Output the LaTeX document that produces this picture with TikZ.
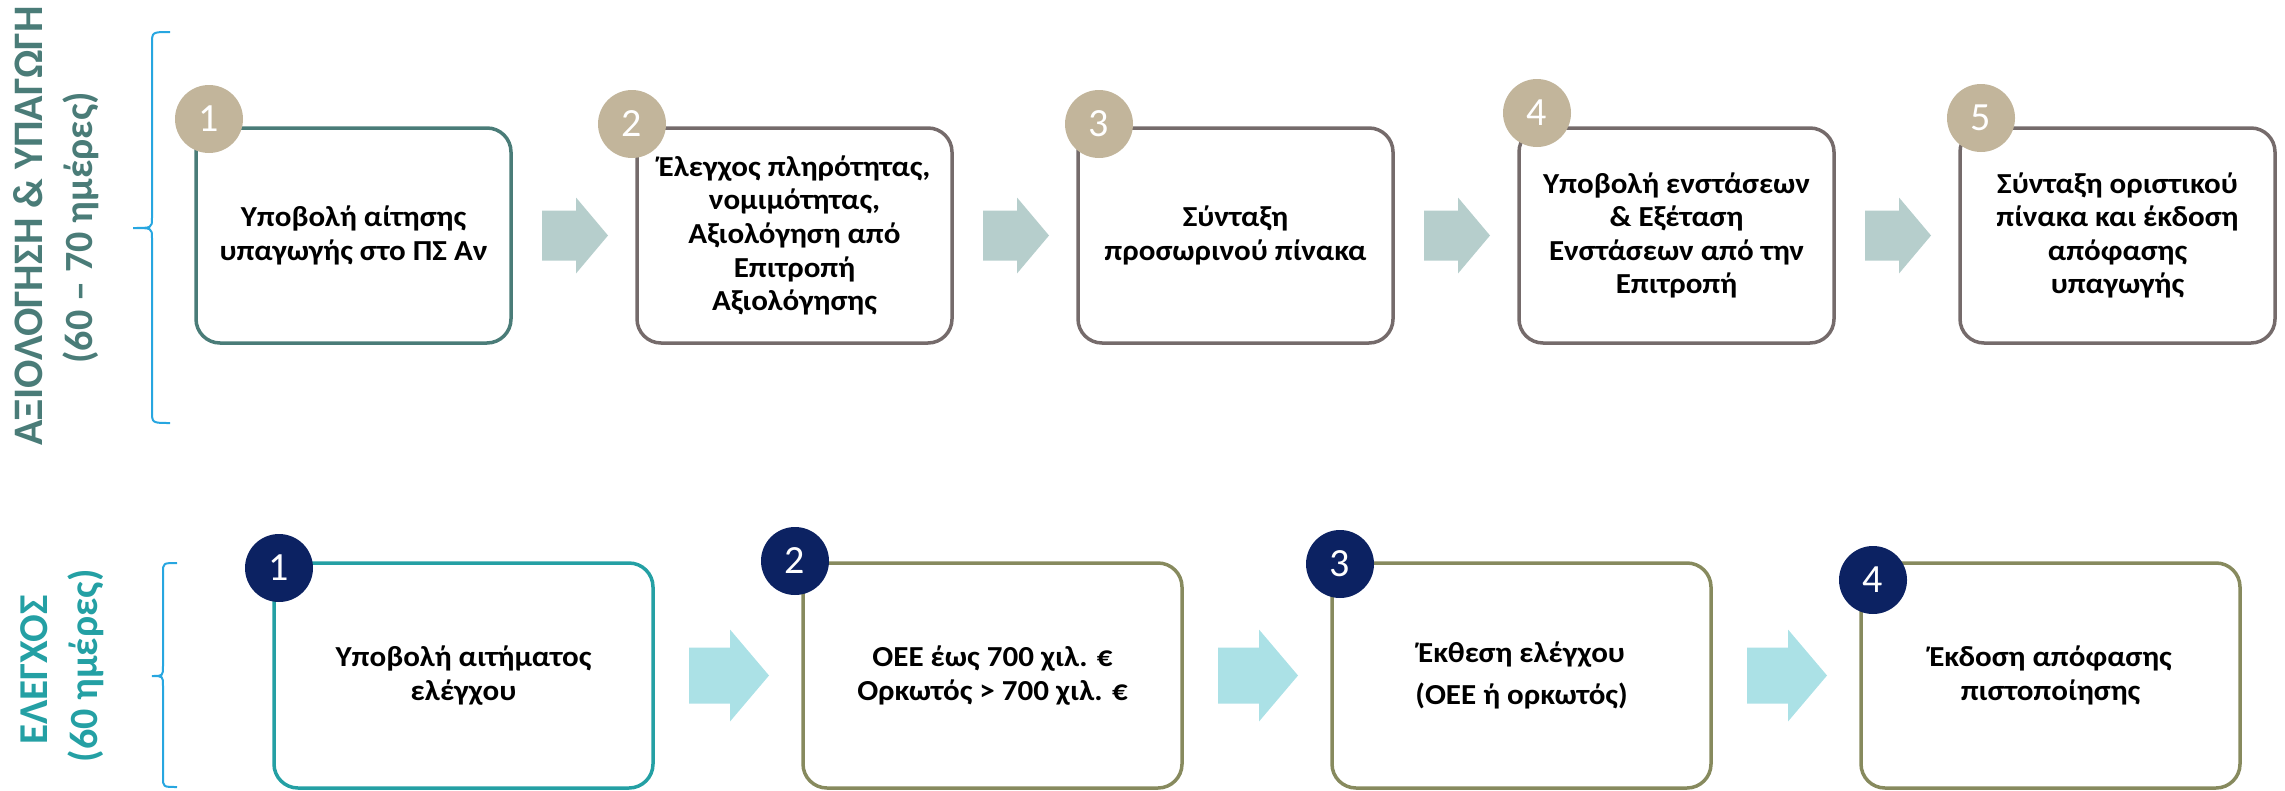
\documentclass[tikz,border=0pt]{standalone}
\usepackage{fontspec}
\setmainfont{Carlito}[FakeStretch=1.07]
\newfontfamily\titlefont{Carlito}
\usepackage{tikz}
\usetikzlibrary{calc}
\definecolor{TopTeal}{HTML}{4A7C78}
\definecolor{TopGray}{HTML}{756B6B}
\definecolor{TopTan}{HTML}{C2B59B}
\definecolor{TopArrow}{HTML}{B6CECC}
\definecolor{BotTeal}{HTML}{24A0A4}
\definecolor{BotOlive}{HTML}{878A5E}
\definecolor{BotNavy}{HTML}{0C2262}
\definecolor{BotArrow}{HTML}{ABE1E6}
\definecolor{BraceBlue}{HTML}{27A6E0}
\tikzset{
  topbox/.style={draw=TopGray, line width=3.5pt, rounded corners=24pt, minimum width=315pt, minimum height=215pt, inner sep=0pt, outer sep=0pt, align=center, font=\bfseries\fontsize{29}{33.6}\selectfont},
  topfirst/.style={topbox, draw=TopTeal},
  botbox/.style={topbox, draw=BotOlive, minimum width=379pt, minimum height=225pt},
  botfirst/.style={botbox, draw=BotTeal},
  topbadge/.style={circle, fill=TopTan, text=white, minimum size=68pt, inner sep=0pt, font=\titlefont\fontsize{40}{40}\selectfont},
  botbadge/.style={topbadge, fill=BotNavy},
  toparrow/.style={fill=TopArrow},
  botarrow/.style={fill=BotArrow},
  toptitle/.style={rotate=90, anchor=base, text=TopTeal, font=\titlefont\bfseries\fontsize{42}{50}\selectfont},
  bottitle/.style={toptitle, text=BotTeal},
  days/.style={font=\titlefont\bfseries\fontsize{40}{48}\selectfont},
  curly/.style={draw=BraceBlue, line width=2pt}
}
\begin{document}
\begin{tikzpicture}[x=1pt,y=-1pt]
  \useasboundingbox (0,0) rectangle (2285,790);
  \node[toptitle] (t1) at (42,226) {ΑΞΙΟΛΟΓΗΣΗ \& ΥΠΑΓΩΓΗ};
  \node[toptitle, days] (t2) at (92,228) {(60 – 70 ημέρες)};
  \node[bottitle, font=\titlefont\bfseries\fontsize{41}{48}\selectfont] (t3) at (47,670) {ΕΛΕΓΧΟΣ};
  \node[bottitle, days] (t4) at (97,666) {(60 ημέρες)};
  \draw[curly] (170,32) .. controls (152,32) .. (152,44) -- (152,218) .. controls (152,228) .. (133,228) .. controls (152,228) .. (152,238) -- (152,411) .. controls (152,423) .. (170,423);
  \draw[curly] (177,563) .. controls (163,563) .. (163,573) -- (163,666) .. controls (163,676) .. (152,676) .. controls (163,676) .. (163,686) -- (163,777) .. controls (163,787) .. (177,787);

  \node[topfirst] (b1) at (353.5,235.5) {Υποβολή αίτησης\\υπαγωγής στο ΠΣ Αν};
  \node[topbox] (b2) at (794.5,235.5) {Έλεγχος πληρότητας,\\νομιμότητας,\\Αξιολόγηση από\\Επιτροπή\\Αξιολόγησης};
  \node[topbox] (b3) at (1235.5,235.5) {Σύνταξη\\προσωρινού πίνακα};
  \node[topbox] (b4) at (1676.5,235.5) {Υποβολή ενστάσεων\\\& Εξέταση\\Ενστάσεων από την\\Επιτροπή};
  \node[topbox] (b5) at (2117.5,235.5) {Σύνταξη οριστικού\\πίνακα και έκδοση\\απόφασης\\υπαγωγής};
  \fill[toparrow] ($(b1.east)+(31,-25)$) -- ++(34,0) -- ++(0,-13) -- ++(32,38) -- ++(-32,38) -- ++(0,-13) -- ++(-34,0) -- cycle;
  \fill[toparrow] ($(b2.east)+(31,-25)$) -- ++(34,0) -- ++(0,-13) -- ++(32,38) -- ++(-32,38) -- ++(0,-13) -- ++(-34,0) -- cycle;
  \fill[toparrow] ($(b3.east)+(31,-25)$) -- ++(34,0) -- ++(0,-13) -- ++(32,38) -- ++(-32,38) -- ++(0,-13) -- ++(-34,0) -- cycle;
  \fill[toparrow] ($(b4.east)+(31,-25)$) -- ++(34,0) -- ++(0,-13) -- ++(32,38) -- ++(-32,38) -- ++(0,-13) -- ++(-34,0) -- cycle;
  \node[topbadge] (n1) at (209,119) {1};
  \node[topbadge] (n2) at (632,124) {2};
  \node[topbadge] (n3) at (1099,124) {3};
  \node[topbadge] (n4) at (1537,113) {4};
  \node[topbadge] (n5) at (1981,118) {5};

  \node[botfirst] (c1) at (463.5,675.5) {Υποβολή αιτήματος\\ελέγχου};
  \node[botbox] (c2) at (992.5,675.5) {ΟΕΕ έως 700 χιλ. €\\Ορκωτός > 700 χιλ. €};
  \node[botbox] (c3) at (1521.5,675.5) {Έκθεση ελέγχου\\[8pt](ΟΕΕ ή ορκωτός)};
  \node[botbox] (c4) at (2050.5,675.5) {Έκδοση απόφασης\\πιστοποίησης};
  \fill[botarrow] ($(c1.east)+(36,-28)$) -- ++(41,0) -- ++(0,-18) -- ++(39,46) -- ++(-39,46) -- ++(0,-18) -- ++(-41,0) -- cycle;
  \fill[botarrow] ($(c2.east)+(36,-28)$) -- ++(41,0) -- ++(0,-18) -- ++(39,46) -- ++(-39,46) -- ++(0,-18) -- ++(-41,0) -- cycle;
  \fill[botarrow] ($(c3.east)+(36,-28)$) -- ++(41,0) -- ++(0,-18) -- ++(39,46) -- ++(-39,46) -- ++(0,-18) -- ++(-41,0) -- cycle;
  \node[botbadge] (m1) at (279,568) {1};
  \node[botbadge] (m2) at (795,561) {2};
  \node[botbadge] (m3) at (1340,564) {3};
  \node[botbadge] (m4) at (1873,580) {4};
\end{tikzpicture}
\end{document}
